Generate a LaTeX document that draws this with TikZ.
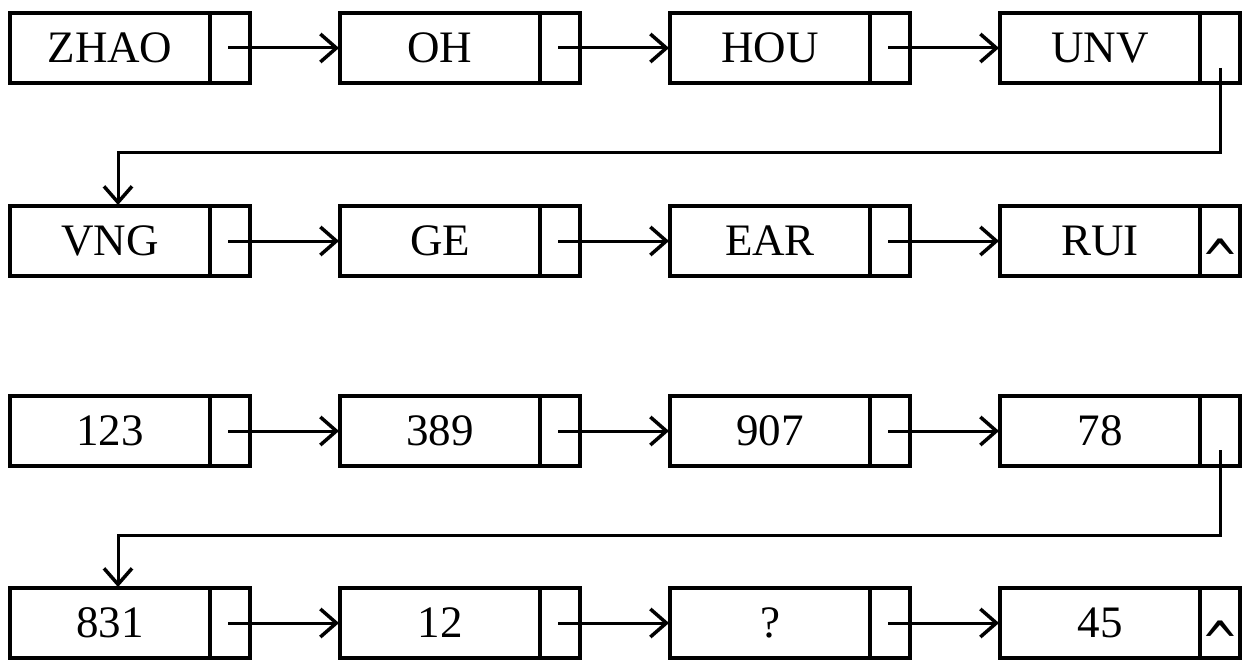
\documentclass[tikz,border=0pt]{standalone}
\usepackage{fontspec}
\setmainfont{Liberation Serif}
\newfontfamily\caretfont{DejaVu Sans}
\usetikzlibrary{arrows.meta}
\tikzset{
  databox/.style={draw, line width=4.5pt, minimum width=200pt, minimum height=70pt,
    inner sep=0pt, outer sep=0pt, anchor=west, font=\fontsize{45}{50}\selectfont},
  ptrbox/.style={draw, line width=4.5pt, minimum width=40pt, minimum height=70pt,
    inner sep=0pt, outer sep=0pt, anchor=west},
  link/.style={line width=3pt, -{Straight Barb[length=16pt,width=28pt,line width=3.5pt]}, shorten >=1pt},
  nullmark/.style={inner sep=0pt, xscale=1.5, yscale=1.9, font=\fontsize{30}{30}\caretfont}
}
\begin{document}
\begin{tikzpicture}[x=1pt,y=-1pt]
\useasboundingbox (0,0) rectangle (1249,666);
% row 1
\node[databox] (d1) at (10,48) {ZHAO};
\node[ptrbox] (p1) at (d1.east) {};
\node[databox] (d2) at (340,48) {OH};
\node[ptrbox] (p2) at (d2.east) {};
\node[databox] (d3) at (670,48) {HOU};
\node[ptrbox] (p3) at (d3.east) {};
\node[databox] (d4) at (1000,48) {UNV};
\node[ptrbox] (p4) at (d4.east) {};
% row 2
\node[databox] (d5) at (10,241) {VNG};
\node[ptrbox] (p5) at (d5.east) {};
\node[databox] (d6) at (340,241) {GE};
\node[ptrbox] (p6) at (d6.east) {};
\node[databox] (d7) at (670,241) {EAR};
\node[ptrbox] (p7) at (d7.east) {};
\node[databox] (d8) at (1000,241) {RUI};
\node[ptrbox] (p8) at (d8.east) {};
\node[nullmark] (n8) at ([yshift=-19pt]p8.center) {\textasciicircum};
% row 3
\node[databox] (e1) at (10,431) {123};
\node[ptrbox] (q1) at (e1.east) {};
\node[databox] (e2) at (340,431) {389};
\node[ptrbox] (q2) at (e2.east) {};
\node[databox] (e3) at (670,431) {907};
\node[ptrbox] (q3) at (e3.east) {};
\node[databox] (e4) at (1000,431) {78};
\node[ptrbox] (q4) at (e4.east) {};
% row 4
\node[databox] (e5) at (10,623) {831};
\node[ptrbox] (q5) at (e5.east) {};
\node[databox] (e6) at (340,623) {12};
\node[ptrbox] (q6) at (e6.east) {};
\node[databox] (e7) at (670,623) {?};
\node[ptrbox] (q7) at (e7.east) {};
\node[databox] (e8) at (1000,623) {45};
\node[ptrbox] (q8) at (e8.east) {};
\node[nullmark] (m8) at ([yshift=-19pt]q8.center) {\textasciicircum};
% horizontal links
\foreach \a/\b in {p1/d2,p2/d3,p3/d4,p5/d6,p6/d7,p7/d8,q1/e2,q2/e3,q3/e4,q5/e6,q6/e7,q7/e8}
  \draw[link] ([xshift=-2pt]\a.center) -- (\b.west);
% wrap-around links
\coordinate (c1) at (1220,152);
\coordinate (c2) at (118,152);
\draw[link] ([yshift=-20pt]p4.center) -- (c1) -- (c2) -- (c2 |- d5.north);
\coordinate (c3) at (1220,535);
\coordinate (c4) at (118,535);
\draw[link] ([yshift=-19pt]q4.center) -- (c3) -- (c4) -- (c4 |- e5.north);
\end{tikzpicture}
\end{document}
